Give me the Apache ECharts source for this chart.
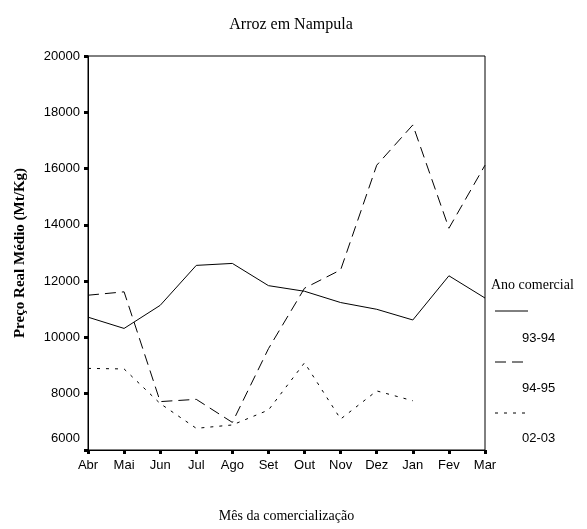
<!DOCTYPE html>
<html>
<head>
<meta charset="utf-8">
<script src="https://cdn.jsdelivr.net/npm/echarts@6/dist/echarts.min.js"></script>
<style>
  html, body { margin: 0; padding: 0; background: #fff; }
  #chart { width: 587px; height: 529px; }
</style>
</head>
<body>
<div id="chart"></div>
<script>
// meses da comercialização
const months = ["Abr", "Mai", "Jun", "Jul", "Ago", "Set", "Out", "Nov", "Dez", "Jan", "Fev", "Mar"];
// preço real médio (Mt/Kg)
const s9394 = [10720, 10320, 11140, 12560, 12630, 11840, 11640, 11240, 11000, 10620, 12190, 11400];
const s9495 = [11500, 11620, 7720, 7800, 6980, 9600, 11750, 12400, 16120, 17550, 13880, 16120];
const s0203 = [8900, 8880, 7650, 6770, 6890, 7420, 9100, 7100, 8100, 7750, null, null];
const yTicks = [6000, 8000, 10000, 12000, 14000, 16000, 18000, 20000];

const seriesNames = ["93-94", "94-95", "02-03"];
const dashes = ["solid", [11, 6], [3, 6]];

const serif = "'Liberation Serif', 'Times New Roman', serif";
const sans = "'Liberation Sans', Arial, sans-serif";

const chart = echarts.init(document.getElementById("chart"));

const option = {
  animation: false,
  backgroundColor: "#fff",
  title: {
    text: "Arroz em Nampula",
    left: 286,
    textAlign: "center",
    top: 12,
    textStyle: { fontFamily: serif, fontSize: 16, fontWeight: "normal", color: "#000" },
  },
  grid: {
    left: 88,
    right: 102,
    top: 56,
    bottom: 79,
    show: true,
    borderColor: "#000",
    borderWidth: 1,
  },
  xAxis: {
    type: "category",
    data: months,
    boundaryGap: false,
    name: "Mês da comercialização",
    nameLocation: "middle",
    nameGap: 59,
    nameTextStyle: { fontFamily: serif, fontSize: 14, color: "#000" },
    axisLine: { lineStyle: { color: "#000", width: 1 } },
    axisTick: { length: 4, lineStyle: { color: "#000", width: 3 } },
    axisLabel: { margin: 9, fontFamily: sans, fontSize: 13, color: "#000", interval: 0 },
  },
  yAxis: {
    type: "value",
    min: yTicks[0],
    max: yTicks[yTicks.length - 1],
    interval: 2000,
    name: "Preço Real Médio (Mt/Kg)",
    nameLocation: "middle",
    nameGap: 60,
    nameTextStyle: { fontFamily: serif, fontSize: 15, fontWeight: "bold", color: "#000" },
    axisLine: { show: true, lineStyle: { color: "#000", width: 1 } },
    axisTick: { show: true, length: 4, lineStyle: { color: "#000", width: 3 } },
    splitLine: { show: false },
    axisLabel: {
      margin: 8,
      fontFamily: sans,
      fontSize: 13,
      color: "#000",
      formatter: (v) => (v === yTicks[0] ? "{low|" + v + "}" : String(v)),
      rich: { low: { fontFamily: sans, fontSize: 13, color: "#000", padding: [0, 0, 24, 0] } },
    },
  },
  series: [s9394, s9495, s0203].map((d, i) => ({
    name: seriesNames[i],
    type: "line",
    data: d,
    symbol: "none",
    connectNulls: false,
    lineStyle: { color: "#000", width: 1, type: dashes[i] },
  })),
  // legenda desenhada à mão: título, linha e rótulo por baixo
  graphic: [
    {
      type: "text",
      left: 491,
      top: 278,
      style: { text: "Ano comercial", font: "14px " + serif, fill: "#000" },
    },
  ].concat(
    seriesNames.flatMap((n, i) => [
      {
        type: "line",
        shape: { x1: 495, y1: 311 + i * 51, x2: 528, y2: 311 + i * 51 },
        style: { stroke: "#000", lineWidth: 1, lineDash: i === 0 ? null : dashes[i] },
      },
      {
        type: "text",
        left: 522,
        top: 332 + i * 50,
        style: { text: n, font: "13px " + sans, fill: "#000" },
      },
    ])
  ),
};

chart.setOption(option);
</script>
</body>
</html>
